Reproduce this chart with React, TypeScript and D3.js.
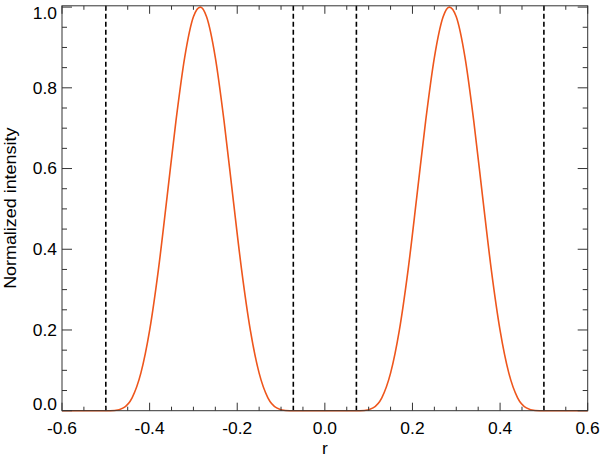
import React from "react";
import * as d3 from "d3";

// Right-hand peak
const rightX = [0.07, 0.09, 0.11, 0.13, 0.15, 0.17, 0.19, 0.21, 0.23, 0.25, 0.27, 0.284, 0.30, 0.32, 0.34, 0.36, 0.38, 0.40, 0.42, 0.44, 0.46, 0.48, 0.50];
const rightY = [0, 0.0005, 0.007, 0.032, 0.093, 0.199, 0.349, 0.531, 0.717, 0.875, 0.976, 1.0, 0.976, 0.875, 0.717, 0.531, 0.349, 0.199, 0.093, 0.032, 0.007, 0.0005, 0];
// Left-hand peak
const leftX = [-0.50, -0.48, -0.46, -0.44, -0.42, -0.40, -0.38, -0.36, -0.34, -0.32, -0.30, -0.284, -0.27, -0.25, -0.23, -0.21, -0.19, -0.17, -0.15, -0.13, -0.11, -0.09, -0.07];
const leftY = [0, 0.0005, 0.007, 0.032, 0.093, 0.199, 0.349, 0.531, 0.717, 0.875, 0.976, 1.0, 0.976, 0.875, 0.717, 0.531, 0.349, 0.199, 0.093, 0.032, 0.007, 0.0005, 0];
// Flat parts
const flatX = [-0.6, 0.6];
// Dashed marker positions
const dashX = [-0.5, -0.072, 0.072, 0.5];

const xTicks = [-0.6, -0.4, -0.2, 0.0, 0.2, 0.4, 0.6];
const yTicks = [0.0, 0.2, 0.4, 0.6, 0.8, 1.0];
const xLabel = "r";
const yLabel = "Normalized intensity";

const W = 600, H = 456;
const L = 62, R = 587.7, T = 5.8, B = 410.7;
const FONT = "'Liberation Sans', Arial, Helvetica, sans-serif";

export default function App() {
  const x = d3.scaleLinear().domain([-0.6, 0.6]).range([L, R]);
  const y = d3.scaleLinear().domain([0, 1.0]).range([B, B - 403.6]);

  const pts: [number, number][] = [];
  pts.push([flatX[0], 0]);
  leftX.forEach((v, i) => pts.push([v, leftY[i]]));
  rightX.forEach((v, i) => pts.push([v, rightY[i]]));
  pts.push([flatX[1], 0]);

  const line = d3
    .line<[number, number]>()
    .x((d) => x(d[0]))
    .y((d) => y(d[1]))
    .curve(d3.curveMonotoneX);

  const xMinor = d3.range(-0.6, 0.6001, 0.05);
  const yMinor = d3.range(0, 1.0001, 0.05);
  const axisColor = "#333";
  const xMaj = 8, xMin = 4, yMaj = 10, yMin = 5;
  const sx = 1.09;

  return (
    <svg width={W} height={H} style={{ position: "absolute", left: 0, top: 0, background: "#fff" }}>
      <rect x={0} y={0} width={W} height={H} fill="#fff" />
      {/* dashed lines */}
      {dashX.map((d, i) => (
        <line key={"d" + i} x1={x(d)} x2={x(d)} y1={T} y2={B} stroke="#000" strokeWidth={1.6} strokeDasharray="5,3" />
      ))}
      {/* curve */}
      <path d={line(pts) || ""} fill="none" stroke="#ee561c" strokeWidth={1.6} />
      {/* frame */}
      <rect x={L} y={T} width={R - L} height={B - T} fill="none" stroke={axisColor} strokeWidth={1} />
      {/* x ticks */}
      {xMinor.map((t, i) => {
        const isMaj = Math.abs(Math.round(t / 0.2) * 0.2 - t) < 1e-6;
        const len = isMaj ? xMaj : xMin;
        const px = x(t);
        return (
          <g key={"xt" + i}>
            <line x1={px} x2={px} y1={B} y2={B - len} stroke={axisColor} />
            <line x1={px} x2={px} y1={T} y2={T + len} stroke={axisColor} />
          </g>
        );
      })}
      {yMinor.map((t, i) => {
        const isMaj = Math.abs(Math.round(t / 0.2) * 0.2 - t) < 1e-6;
        const len = isMaj ? yMaj : yMin;
        const py = y(t);
        return (
          <g key={"yt" + i}>
            <line x1={L} x2={L + len} y1={py} y2={py} stroke={axisColor} />
            <line x1={R} x2={R - len} y1={py} y2={py} stroke={axisColor} />
          </g>
        );
      })}
      {/* x labels */}
      {xTicks.map((t, i) => (
        <text
          key={"xl" + i}
          transform={`translate(${x(t)},428.5) scale(${sx},1)`}
          dy="0.36em"
          textAnchor="middle"
          fontFamily={FONT}
          fontSize={16}
          fill="#000"
        >
          {t.toFixed(1)}
        </text>
      ))}
      {/* y labels */}
      {yTicks.map((t, i) => {
        const py = Math.max(T + 7, Math.min(B - 6, y(t)));
        return (
          <text
            key={"yl" + i}
            transform={`translate(57,${py}) scale(${sx},1)`}
            dy="0.36em"
            textAnchor="end"
            fontFamily={FONT}
            fontSize={16}
            fill="#000"
          >
            {t.toFixed(1)}
          </text>
        );
      })}
      <text
        transform={`translate(${(L + R) / 2},453.5) scale(${sx},1)`}
        textAnchor="middle"
        fontFamily={FONT}
        fontSize={16}
        fill="#000"
      >
        {xLabel}
      </text>
      <text
        transform={`translate(16,${(T + B) / 2}) rotate(-90) scale(1.12,1)`}
        textAnchor="middle"
        fontFamily={FONT}
        fontSize={16}
        fill="#000"
      >
        {yLabel}
      </text>
    </svg>
  );
}
